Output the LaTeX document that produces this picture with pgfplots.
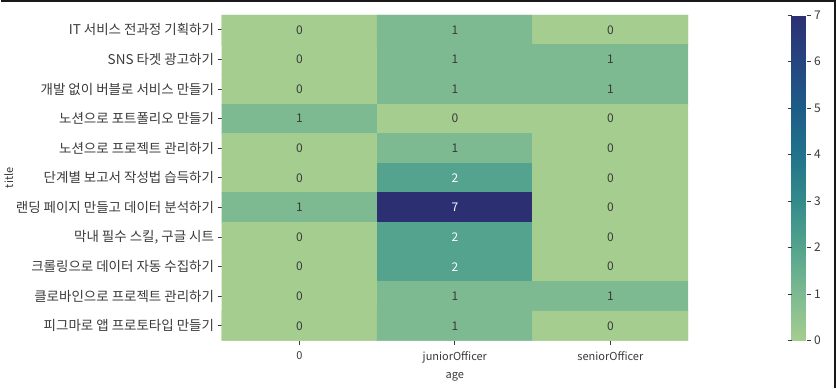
\documentclass[border=0pt]{standalone}
\usepackage{pgfplots}
\pgfplotsset{compat=1.18}
\usepackage{pgfplotstable}
\usepackage{fontspec}
\setmainfont{Noto Sans CJK KR}
\definecolor{txt}{HTML}{3A3A3A}
\pgfplotstableread{
x y v
0 0 0
1 0 1
2 0 0
0 1 0
1 1 1
2 1 1
0 2 0
1 2 1
2 2 1
0 3 1
1 3 0
2 3 0
0 4 0
1 4 1
2 4 0
0 5 0
1 5 2
2 5 0
0 6 1
1 6 7
2 6 0
0 7 0
1 7 2
2 7 0
0 8 0
1 8 2
2 8 0
0 9 0
1 9 1
2 9 1
0 10 0
1 10 1
2 10 0
}\heat
\begin{document}
\begin{tikzpicture}
\path (0pt,0pt) rectangle (836pt,388pt);
\draw[color=black!90, line width=1.6pt] (0pt,387.2pt) -- (835.2pt,387.2pt) -- (835.2pt,0pt);
\begin{axis}[
  at={(221pt,47pt)}, anchor=south west,
  scale only axis, width=467pt, height=326pt,
  xmin=-0.5, xmax=2.5, ymin=-0.5, ymax=10.5,
  y dir=reverse,
  axis line style={draw=none},
  xtick={0,1,2}, xticklabels={0,juniorOfficer,seniorOfficer},
  ytick={0,...,10},
  yticklabels={IT 서비스 전과정 기획하기, SNS 타겟 광고하기, 개발 없이 버블로 서비스 만들기, 노션으로 포트폴리오 만들기, 노션으로 프로젝트 관리하기, 단계별 보고서 작성법 습득하기, 랜딩 페이지 만들고 데이터 분석하기, 막내 필수 스킬{,} 구글 시트, 크롤링으로 데이터 자동 수집하기, 클로바인으로 프로젝트 관리하기, 피그마로 앱 프로토타입 만들기},
  tick align=outside, tick pos=left,
  major tick length=4pt,
  tick style={color=txt, line width=0.8pt},
  xticklabel style={font=\fontsize{11}{12}\selectfont, text=txt, yshift=-3pt},
  yticklabel style={font=\fontsize{13.5}{15}\selectfont, text=txt},
  xlabel={age}, ylabel={title},
  label style={font=\fontsize{11}{12}\selectfont, text=txt},
  xlabel style={yshift=-3pt},
  ylabel style={at={(rel axis cs:0,0.5)}, anchor=center, yshift=213pt},
  colormap={crest}{rgb255(0)=(165,205,144); rgb255(1)=(125,186,145); rgb255(2)=(84,163,142); rgb255(3)=(52,139,139); rgb255(4)=(33,115,139); rgb255(5)=(30,92,136); rgb255(6)=(37,69,128); rgb255(7)=(44,48,115)},
  point meta min=0, point meta max=7,
  colorbar,
  colorbar style={
    at={(parent axis.north east)}, anchor=north west, xshift=95pt,
    width=15pt, height=326pt, scale only axis,
    axis line style={draw=none},
    ytick={0,...,7},
    tick align=outside,
    major tick length=4pt,
    tick style={color=txt, line width=0.8pt},
    yticklabel style={font=\fontsize{12}{13}\selectfont, text=txt},
    /pgf/number format/assume math mode=true,
  },
]
\addplot[matrix plot*, mesh/cols=3, point meta=explicit, draw=none] table[x=x, y=y, meta=v] {\heat};
\addplot[only marks, mark=none, point meta=explicit symbolic,
  nodes near coords={\ifnum\pgfplotspointmeta>1 \textcolor{white}{\pgfplotspointmeta}\else\textcolor{txt}{\pgfplotspointmeta}\fi},
  nodes near coords align=center,
  every node near coord/.append style={font=\fontsize{12}{13}\selectfont, anchor=center}
] table[x=x, y=y, meta=v] {\heat};
\end{axis}
\end{tikzpicture}
\end{document}
